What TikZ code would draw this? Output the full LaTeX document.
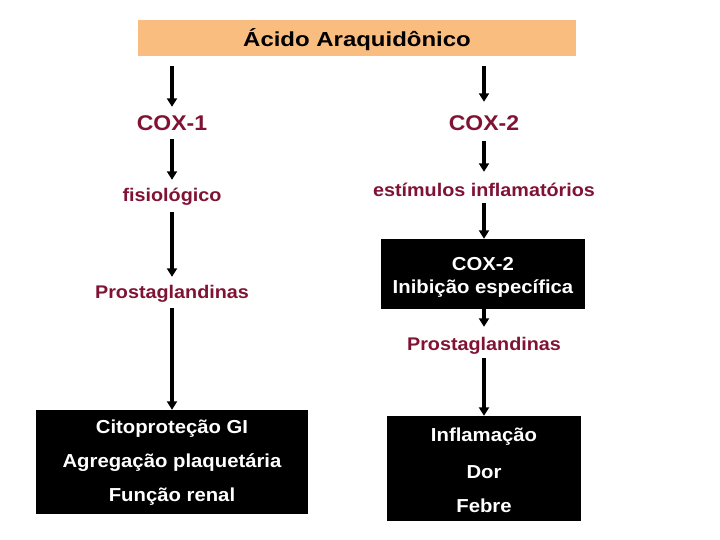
\documentclass[tikz,border=0pt]{standalone}
\usepackage{fontspec}
\usetikzlibrary{arrows.meta}
\newfontfamily\labfont[FakeStretch=1.08]{Liberation Sans}
\newfontfamily\ttlfont[FakeStretch=1.18]{Liberation Sans}
\definecolor{peach}{RGB}{250,189,128}
\definecolor{maroon}{RGB}{128,18,52}
\tikzset{
  lbl/.style={inner sep=0pt, text height=13pt, text depth=0pt, text=maroon,
    font=\labfont\bfseries\fontsize{18.3}{22}\selectfont},
  coxlbl/.style={inner sep=0pt, text height=15pt, text depth=0pt, text=maroon,
    font=\labfont\bfseries\fontsize{21.3}{25}\selectfont},
  blackbox/.style={fill=black, draw=none, inner sep=0pt},
  wt/.style={inner sep=0pt, text height=13pt, text depth=0pt, text=white,
    font=\labfont\bfseries\fontsize{18.8}{22}\selectfont},
  arr/.style={line width=3.2pt, -{Triangle[length=8.5pt,width=10pt]}},
}
\begin{document}
\begin{tikzpicture}[x=1pt,y=-1pt]
\useasboundingbox (0,0) rectangle (720,540);
% title
\node[fill=peach, inner sep=0pt, minimum width=438pt, minimum height=36pt,
  text height=14pt, text depth=0pt, font=\ttlfont\bfseries\fontsize{20.3}{24}\selectfont]
  (title) at (357,38) {\raisebox{-2pt}{Ácido Araquidônico}};
% left column
\node[coxlbl] (cox1) at (172,123) {COX-1};
\node[lbl] (fisio) at (172,195) {fisiológico};
\node[lbl] (prostL) at (172,292) {Prostaglandinas};
\node[blackbox, minimum width=272pt, minimum height=104pt] (boxL) at (172,462) {};
\node[wt] (l1) at (172,427) {Citoproteção GI};
\node[wt] (l2) at (172,461) {Agregação plaquetária};
\node[wt] (l3) at (172,495) {Função renal};
% right column
\node[coxlbl] (cox2) at (484,123) {COX-2};
\node[lbl] (estim) at (484,190) {estímulos inflamatórios};
\node[blackbox, minimum width=204pt, minimum height=70pt] (boxC) at (483,274) {};
\node[wt] (c1) at (483,264) {COX-2};
\node[wt] (c2) at (483,287) {Inibição específica};
\node[lbl] (prostR) at (484,344) {Prostaglandinas};
\node[blackbox, minimum width=194pt, minimum height=105pt] (boxR) at (484,468.5) {};
\node[wt] (r1) at (484,435) {Inflamação};
\node[wt] (r2) at (484,471.5) {Dor};
\node[wt] (r3) at (484,506) {Febre};
% arrows left
\draw[arr, shorten <=10pt, shorten >=8.5pt] (title.south -| cox1) -- (cox1);
\draw[arr, shorten <=8.5pt, shorten >=8.5pt] (cox1) -- (fisio);
\draw[arr, shorten <=10.5pt, shorten >=8.5pt] (fisio) -- (prostL);
\draw[arr, shorten <=9.5pt] (prostL) -- (prostL |- boxL.north);
% arrows right
\draw[arr, shorten <=10pt, shorten >=13.5pt] (title.south -| cox2) -- (cox2);
\draw[arr, shorten <=10.5pt, shorten >=11.5pt] (cox2) -- (estim);
\draw[arr, shorten <=6.5pt] (estim) -- (estim |- boxC.north);
\draw[arr, shorten >=10.5pt] (boxC.south -| prostR) -- (prostR);
\draw[arr, shorten <=7.5pt] (prostR) -- (prostR |- boxR.north);
\end{tikzpicture}
\end{document}
